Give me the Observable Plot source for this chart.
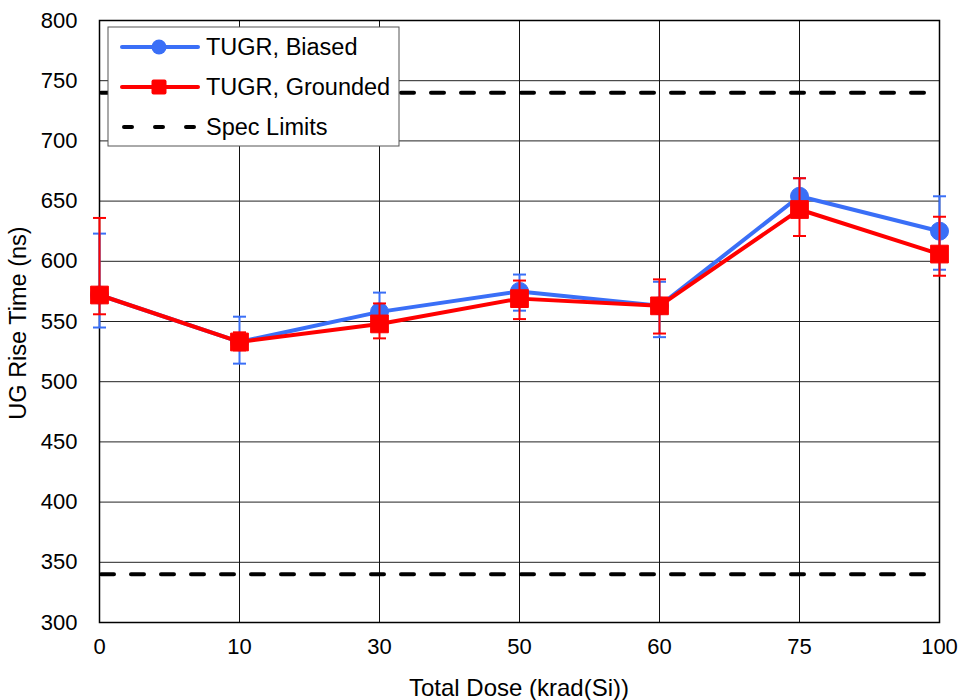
<!DOCTYPE html>
<html>
<head>
<meta charset="utf-8">
<script src="https://cdn.jsdelivr.net/npm/d3@7"></script>
<script src="https://cdn.jsdelivr.net/npm/@observablehq/plot@0.6"></script>
<style>
  html, body { margin: 0; padding: 0; background: #fff; }
  #chart { width: 960px; height: 700px; }
  svg { font-family: "Liberation Sans", Arial, sans-serif; }
</style>
</head>
<body>
<div id="chart"></div>
<script>
const doses = ["0", "10", "30", "50", "60", "75", "100"];
const biasedMean = [572, 533, 558, 575, 563, 654, 625];
const biasedLow  = [545, 515, 542, 559, 537, 639, 593];
const biasedHigh = [623, 554, 574, 589, 583, 669, 654];
const groundedMean = [572, 533, 548, 569, 563, 643, 606];
const groundedLow  = [556, 526, 536, 552, 540, 621, 588];
const groundedHigh = [636, 541, 565, 584, 585, 669, 637];
const specLimits = [740, 340];
const yTicks = [300, 350, 400, 450, 500, 550, 600, 650, 700, 750, 800];
const seriesNames = ["TUGR, Biased", "TUGR, Grounded", "Spec Limits"];

const BLUE = "#3a6ff7";
const RED = "#ff0000";

const biased = doses.map((d, i) => ({dose: d, mean: biasedMean[i], lo: biasedLow[i], hi: biasedHigh[i]}));
const grounded = doses.map((d, i) => ({dose: d, mean: groundedMean[i], lo: groundedLow[i], hi: groundedHigh[i]}));

const capSymbol = {
  draw(ctx, size) {
    const w = Math.sqrt(size / Math.PI);
    ctx.moveTo(-w, 0);
    ctx.lineTo(w, 0);
  }
};

function seriesMarks(data, color, symbol, r) {
  return [
    Plot.ruleX(data, {x: "dose", y1: "lo", y2: "hi", stroke: color, strokeWidth: 2}),
    Plot.dot(data, {x: "dose", y: "hi", symbol: capSymbol, r: 6.5, stroke: color, strokeWidth: 2, fill: "none"}),
    Plot.dot(data, {x: "dose", y: "lo", symbol: capSymbol, r: 6.5, stroke: color, strokeWidth: 2, fill: "none"}),
    Plot.line(data, {x: "dose", y: "mean", stroke: color, strokeWidth: 4}),
    Plot.dot(data, {x: "dose", y: "mean", symbol: symbol, r: r, fill: color, stroke: color, strokeWidth: 1, strokeLinejoin: "round"})
  ];
}

const chart = Plot.plot({
  width: 960,
  height: 700,
  marginLeft: 99,
  marginRight: 21,
  marginTop: 20,
  marginBottom: 78,
  style: {fontFamily: "'Liberation Sans', Arial, sans-serif", fontSize: "22px", color: "#000", background: "#fff"},
  x: {type: "point", domain: doses, padding: 0, label: null, tickSize: 0, tickPadding: 16},
  y: {domain: [300, 800], ticks: yTicks, label: null, tickSize: 0, tickPadding: 22, tickFormat: d => String(d)},
  marks: [
    Plot.gridY(yTicks, {stroke: "#222", strokeOpacity: 1, strokeWidth: 1}),
    Plot.gridX(doses, {stroke: "#111", strokeOpacity: 1, strokeWidth: 1}),
    Plot.frame({stroke: "#000", strokeWidth: 1.5}),
    Plot.ruleY(specLimits, {stroke: "#000", strokeWidth: 4, strokeDasharray: "13,17", strokeLinecap: "round", strokeDashoffset: -2}),
    ...seriesMarks(biased, BLUE, "circle", 9),
    ...seriesMarks(grounded, RED, "square", 10)
  ]
});

const svg = d3.select(chart);
// axis titles
svg.append("text")
  .attr("x", 519).attr("y", 696)
  .attr("text-anchor", "middle")
  .style("font-size", "24px").attr("fill", "#000")
  .text("Total Dose (krad(Si))");
svg.append("text")
  .attr("transform", "translate(26,323) rotate(-90)")
  .attr("text-anchor", "middle")
  .style("font-size", "23.5px").attr("fill", "#000")
  .text("UG Rise Time (ns)");

// legend
const lg = svg.append("g").attr("transform", "translate(108,27)");
lg.append("rect").attr("x", 0).attr("y", 0).attr("width", 291).attr("height", 119)
  .attr("fill", "#fff").attr("stroke", "#555").attr("stroke-width", 1);
const rows = [
  {name: seriesNames[0], color: BLUE, kind: "circle", y: 20},
  {name: seriesNames[1], color: RED, kind: "square", y: 60},
  {name: seriesNames[2], color: "#000", kind: "dash", y: 100}
];
rows.forEach(r => {
  if (r.kind === "dash") {
    lg.append("line").attr("x1", 16).attr("x2", 90).attr("y1", r.y).attr("y2", r.y)
      .attr("stroke", "#000").attr("stroke-width", 4).attr("stroke-dasharray", "8,23").attr("stroke-linecap", "round");
  } else {
    lg.append("line").attr("x1", 14).attr("x2", 90).attr("y1", r.y).attr("y2", r.y)
      .attr("stroke", r.color).attr("stroke-width", 4).attr("stroke-linecap", "round");
    if (r.kind === "circle") {
      lg.append("circle").attr("cx", 51).attr("cy", r.y).attr("r", 7.5).attr("fill", r.color);
    } else {
      lg.append("rect").attr("x", 43.5).attr("y", r.y - 7.5).attr("width", 15).attr("height", 15).attr("rx", 2).attr("fill", r.color);
    }
  }
  lg.append("text").attr("x", 98).attr("y", r.y).attr("dy", "0.35em")
    .attr("text-anchor", "start")
    .style("font-size", "23.5px").attr("fill", "#000").text(r.name);
});

document.getElementById("chart").appendChild(chart);
</script>
</body>
</html>
